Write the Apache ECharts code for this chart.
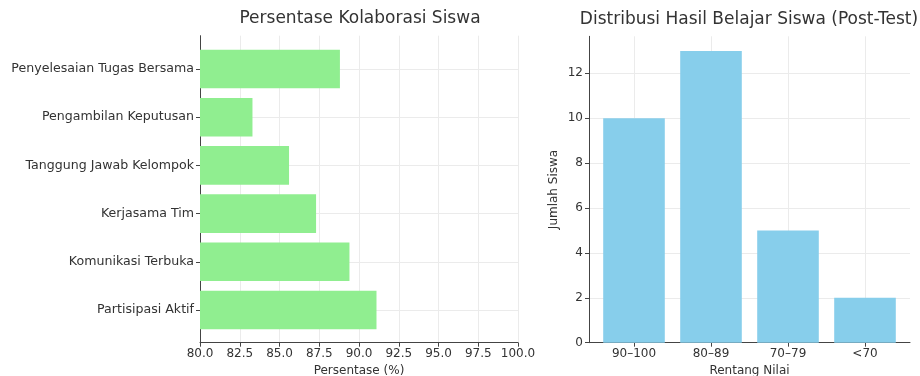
<!DOCTYPE html>
<html>
<head>
<meta charset="utf-8">
<script src="https://cdn.jsdelivr.net/npm/echarts@6/dist/echarts.min.js"></script>
<style>
  html, body { margin: 0; padding: 0; background: #fff; }
  #chart { width: 920px; height: 376px; }
</style>
</head>
<body>
<div id="chart"></div>
<script>
// Collaboration aspects (bottom to top) and their percentages
const collabCategories = [
  'Partisipasi Aktif',
  'Komunikasi Terbuka',
  'Kerjasama Tim',
  'Tanggung Jawab Kelompok',
  'Pengambilan Keputusan',
  'Penyelesaian Tugas Bersama'
];
const collabValues = [91.1, 89.4, 87.3, 85.6, 83.3, 88.8];
const percentTicks = [80, 82.5, 85, 87.5, 90, 92.5, 95, 97.5, 100];

// Post-test score ranges and number of students in each
const gradeRanges = ['90–100', '80–89', '70–79', '<70'];
const gradeCounts = [10, 13, 5, 2];
const countTicks = [0, 2, 4, 6, 8, 10, 12];

const FONT = 'DejaVu Sans';
const TEXT = '#333';
const SPINE = '#444';
const GRIDLINE = '#ebebeb';
const TICK_FONT = 12;

const chart = echarts.init(document.getElementById('chart'), null, { renderer: 'canvas' });

const hiddenValue = (gridIndex, min, max) => ({
  type: 'value', gridIndex, min, max, show: false
});

const frameAxis = (gridIndex) => ({
  type: 'value', gridIndex, min: 0, max: 1,
  axisLine: { show: true, lineStyle: { color: SPINE, width: 1 } },
  axisTick: { show: false },
  axisLabel: { show: false },
  splitLine: { show: false }
});

const makeGrid = (left, top, width, height) => ({
  left, top, width, height, containLabel: false, outerBoundsMode: 'none'
});

const option = {
  animation: false,
  textStyle: { fontFamily: FONT },
  title: [
    {
      text: 'Persentase Kolaborasi Siswa',
      left: 360, top: 10, padding: 0, textAlign: 'center',
      textStyle: { fontFamily: FONT, fontSize: 17, fontWeight: 'normal', color: TEXT }
    },
    {
      text: 'Distribusi Hasil Belajar Siswa (Post-Test)',
      left: 749, top: 11, padding: 0, textAlign: 'center',
      textStyle: { fontFamily: FONT, fontSize: 17, fontWeight: 'normal', color: TEXT }
    }
  ],
  grid: [
    // left chart: frame, bars, horizontal gridlines at category centres
    makeGrid(200, 35.7, 318, 307),
    makeGrid(200, 44.9, 318, 289.2),
    makeGrid(200, 69, 318, 241),
    // right chart: frame, bars, vertical gridlines at category centres
    makeGrid(589, 36.3, 321, 306.4),
    makeGrid(595.5, 36.3, 308, 306.4),
    makeGrid(634, 36.3, 231, 306.4)
  ],
  xAxis: [
    {
      type: 'value', gridIndex: 0, min: 80, max: 100, interval: 2.5,
      name: 'Persentase (%)', nameLocation: 'middle', nameGap: 18,
      nameTextStyle: { fontFamily: FONT, fontSize: 12, color: TEXT },
      axisLine: { show: true, lineStyle: { color: SPINE, width: 1 } },
      axisTick: { show: true, length: 4, lineStyle: { color: SPINE } },
      axisLabel: {
        fontFamily: FONT, fontSize: TICK_FONT, color: TEXT, margin: 5,
        formatter: (v) => (percentTicks.indexOf(v) >= 0 ? v.toFixed(1) : '')
      },
      splitLine: { show: true, lineStyle: { color: GRIDLINE, width: 1 } }
    },
    hiddenValue(1, 80, 100),
    hiddenValue(2, 80, 100),
    {
      type: 'value', gridIndex: 3, min: 0, max: 1,
      axisLine: { show: true, lineStyle: { color: SPINE, width: 1 } },
      axisTick: { show: false }, axisLabel: { show: false }, splitLine: { show: false }
    },
    {
      type: 'category', gridIndex: 4, data: gradeRanges,
      name: 'Rentang Nilai', nameLocation: 'middle', nameGap: 18,
      nameTextStyle: { fontFamily: FONT, fontSize: 12, color: TEXT },
      axisLine: { show: false },
      axisTick: { show: true, alignWithLabel: true, length: 4, lineStyle: { color: SPINE } },
      axisLabel: { fontFamily: FONT, fontSize: TICK_FONT, color: TEXT, margin: 5 },
      splitLine: { show: false }
    },
    {
      type: 'category', gridIndex: 5, data: gradeRanges, boundaryGap: false,
      axisLine: { show: false }, axisTick: { show: false }, axisLabel: { show: false },
      splitLine: { show: true, lineStyle: { color: GRIDLINE, width: 1 } }
    }
  ],
  yAxis: [
    frameAxis(0),
    {
      type: 'category', gridIndex: 1, data: collabCategories,
      axisLine: { show: false },
      axisTick: { show: true, alignWithLabel: true, length: 4, lineStyle: { color: SPINE } },
      axisLabel: { fontFamily: FONT, fontSize: 12.6, color: TEXT, margin: 6 },
      splitLine: { show: false }
    },
    {
      type: 'category', gridIndex: 2, data: collabCategories, boundaryGap: false,
      axisLine: { show: false }, axisTick: { show: false }, axisLabel: { show: false },
      splitLine: { show: true, lineStyle: { color: GRIDLINE, width: 1 } }
    },
    {
      type: 'value', gridIndex: 3, min: 0, max: 13.65, interval: 2,
      name: 'Jumlah Siswa', nameLocation: 'middle', nameGap: 29,
      nameTextStyle: { fontFamily: FONT, fontSize: 12, color: TEXT },
      axisLine: { show: true, lineStyle: { color: SPINE, width: 1 } },
      axisTick: { show: true, length: 4, customValues: countTicks, lineStyle: { color: SPINE } },
      axisLabel: {
        fontFamily: FONT, fontSize: TICK_FONT, color: TEXT, margin: 6,
        customValues: countTicks,
        formatter: (v) => (countTicks.indexOf(v) >= 0 ? String(v) : '')
      },
      splitLine: {
        show: true,
        lineStyle: {
          color: [GRIDLINE, GRIDLINE, GRIDLINE, GRIDLINE, GRIDLINE, GRIDLINE, GRIDLINE, 'rgba(0,0,0,0)'],
          width: 1
        }
      }
    },
    hiddenValue(4, 0, 13.65),
    hiddenValue(5, 0, 1)
  ],
  series: [
    {
      type: 'bar', name: 'Persentase',
      xAxisIndex: 1, yAxisIndex: 1,
      data: collabValues,
      barCategoryGap: '20%',
      itemStyle: { color: '#90EE90' },
      z: 3
    },
    {
      type: 'bar', name: 'Jumlah Siswa',
      xAxisIndex: 4, yAxisIndex: 4,
      data: gradeCounts,
      barCategoryGap: '20%',
      itemStyle: { color: '#87CEEB' },
      z: 3
    }
  ]
};

chart.setOption(option);
</script>
</body>
</html>
